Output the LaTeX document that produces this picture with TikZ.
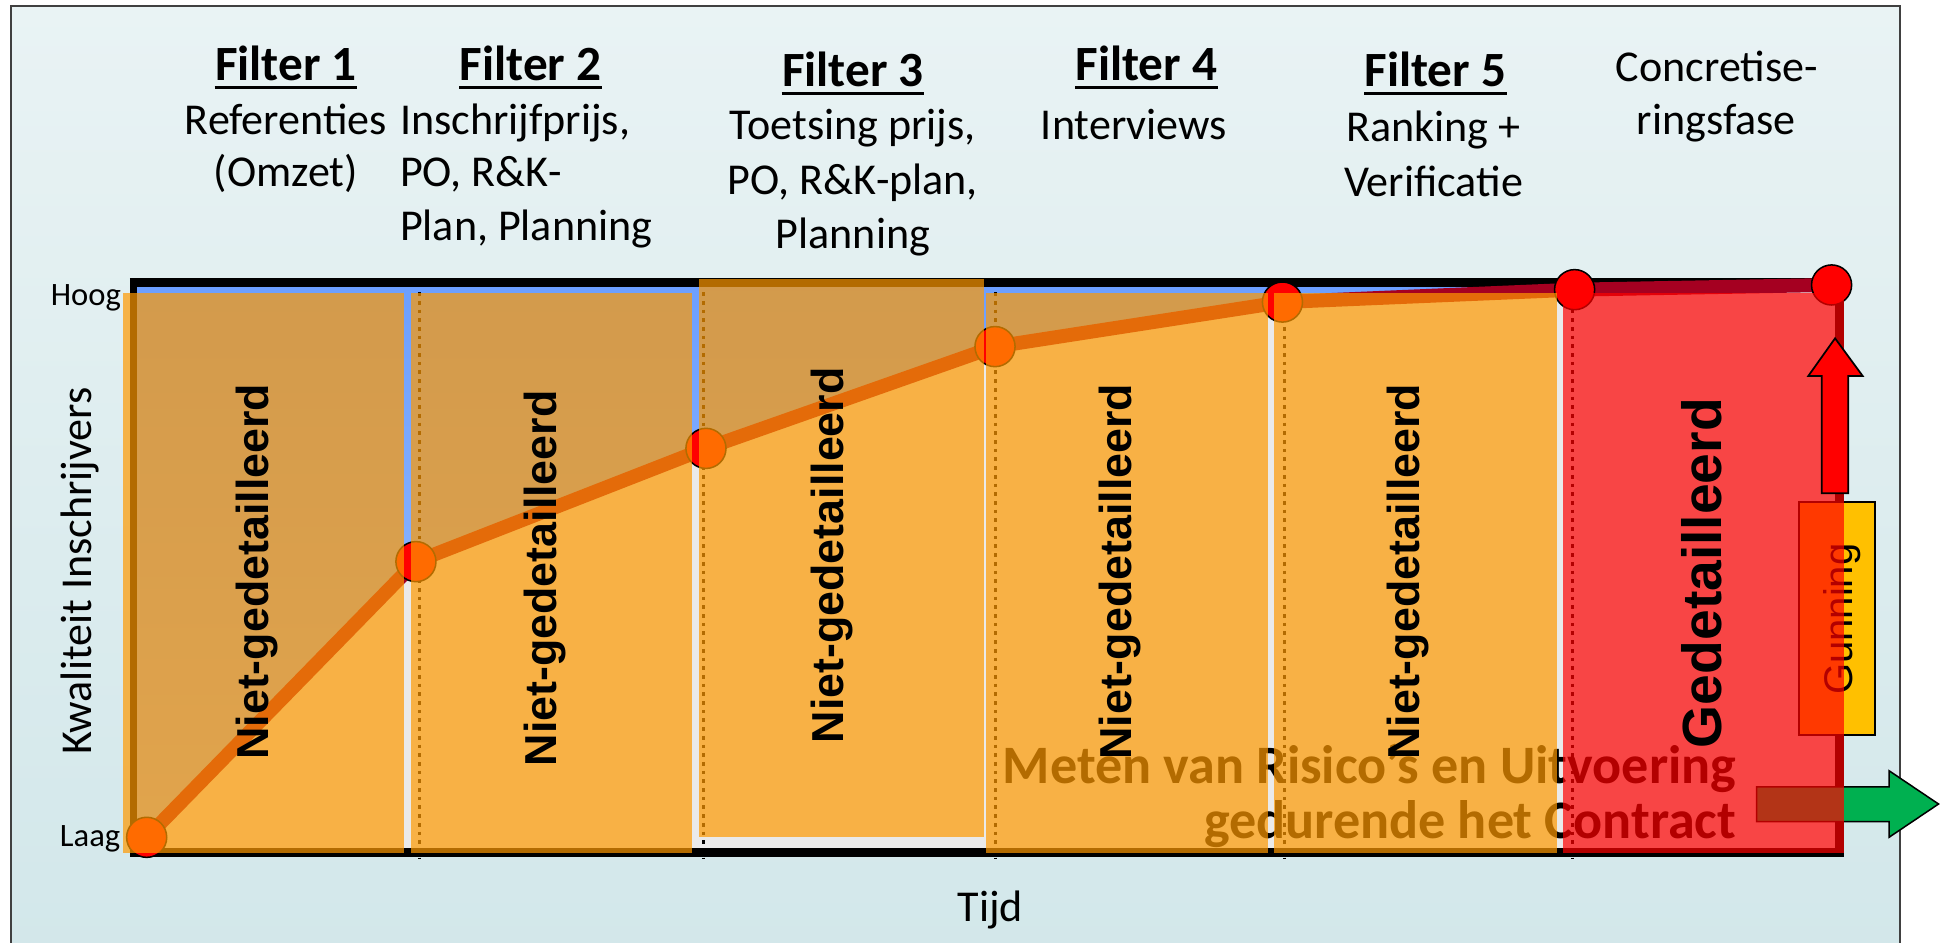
\documentclass[tikz,border=0pt]{standalone}
\usepackage{fontspec}
\setmainfont{Carlito}
\newfontfamily\arialfont{Liberation Sans}
\newfontfamily\arialbold{Liberation Sans Bold}
\usetikzlibrary{calc}

\definecolor{bgtop}{HTML}{E9F3F4}
\definecolor{bgbot}{HTML}{D2E7EA}
\definecolor{framegray}{HTML}{404040}
\definecolor{chartgray}{HTML}{EAEAEA}
\definecolor{bluetop}{HTML}{6C9FFF}
\definecolor{bluebot}{HTML}{9CC0FF}
\definecolor{curvered}{HTML}{A50021}
\definecolor{phaseorange}{HTML}{FF9900}
\definecolor{phasered}{HTML}{FF0000}
\definecolor{arrowgreen}{HTML}{00B050}
\definecolor{gunyellow}{HTML}{FFC000}

\begin{document}
\begin{tikzpicture}[x=0.02cm, y=-0.02cm,
  body/.style={font=\fontsize{20.26pt}{24pt}\selectfont, inner sep=0pt, anchor=base},
  bodyleft/.style={body, anchor=base west},
  title/.style={font=\bfseries\fontsize{22.65pt}{26pt}\selectfont, inner sep=0pt, anchor=base},
  tick/.style={font=\fontsize{15pt}{18pt}\selectfont, inner sep=0pt, anchor=base east},
  meten/.style={font=\bfseries\fontsize{24.9pt}{28pt}\selectfont, inner sep=0pt, anchor=base east},
  colvert/.style={font=\arialbold\fontsize{20.6pt}{25pt}\selectfont, rotate=90, inner sep=0pt, anchor=base},
  orangecol/.style={fill=phaseorange, fill opacity=0.7},
  redcol/.style={fill=phasered, fill opacity=0.7},
  dotline/.style={black, line width=1.4pt, dash pattern=on 1.7pt off 2.3pt},
  dot/.style={circle, draw=black, fill=red, line width=0.7pt, minimum size=0.648cm, inner sep=0pt},
  uline/.style={line width=1.3pt}
]
\useasboundingbox (0,0) rectangle (1568,761);
\clip (0,0) rectangle (1568,761);

% page and panel
\fill[white] (0,0) rectangle (1568,761);
\draw[framegray, line width=0.7pt, top color=bgtop, bottom color=bgbot] (9,4.8) rectangle (1535,780);

% curve points
\coordinate (p1) at (118.5,676.4);
\coordinate (p2) at (336,453.7);
\coordinate (p3) at (570.3,362.2);
\coordinate (p4) at (803.8,280);
\coordinate (p5) at (1036,244);
\coordinate (p6) at (1272,234);
\coordinate (p7) at (1479.6,230.2);

% chart area: grey below the curve, blue above it
\fill[chartgray] (107.7,228.2) rectangle (1485.9,688.5);
\shade[top color=bluetop, bottom color=bluebot]
  (107.7,228.2) -- (1485.9,228.2) -- (1485.9,230.2) -- (p7) -- (p6) -- (p5) -- (p4)
  -- (p3) -- (p2) -- (p1) -- (107.7,676.4) -- cycle;

% axes
\draw[line width=3.87pt] (105,228.2) -- (1489.3,228.2);
\draw[line width=3.98pt] (105,688.5) -- (1489.3,688.5);
\draw[line width=3.07pt] (107.7,224.8) -- (107.7,692);
\draw[line width=3.9pt] (1485.9,224.8) -- (1485.9,692);

% phase separators
\foreach \xx in {338.7,568,804.5,1038,1270.4}
  \draw[dotline] (\xx,229) -- (\xx,693);

% quality curve
\draw[curvered, line width=6.4pt, line join=round] (p1) -- (p2) -- (p3) -- (p4) -- (p5) -- (p6) -- (p7);
\foreach \pp in {1,...,7}
  \node[dot] (d\pp) at (p\pp) {};

% contract text, green arrow and award box
\node[meten] (m1) at (1403,632.8) {Meten van Risico’s en Uitvoering};
\node[meten] (m2) at (1403,677.2) {gedurende het Contract};
\draw[fill=arrowgreen, line width=0.7pt] (1419,635.6) -- (1526,635.6) -- (1526,622.6) -- (1566,649.5)
  -- (1526,676.4) -- (1526,663.8) -- (1419,663.8) -- cycle;
\draw[fill=gunyellow, line width=0.8pt] (1453.5,405.3) rectangle (1514.7,593.8);
\node[font=\arialfont\fontsize{18.4pt}{22pt}\selectfont, rotate=90, inner sep=0pt, anchor=base] (gun) at (1496.6,500.2) {Gunning};

% phase columns
\fill[orangecol] (99.6,237) rectangle (326.4,689);
\fill[orangecol] (331.8,237) rectangle (558.7,689);
\fill[orangecol] (565,225) rectangle (795,676);
\fill[orangecol] (796.6,237) rectangle (1024.7,689);
\fill[orangecol] (1029,237) rectangle (1257.8,689);
\fill[redcol] (1262.4,237) rectangle (1489.3,689);

% award arrow
\draw[fill=red, line width=0.8pt] (1471.6,398.5) -- (1471.6,303.7) -- (1460.8,303.7) -- (1482.4,273.3)
  -- (1504.7,303.7) -- (1493.1,303.7) -- (1493.1,398.5) -- cycle;

% column labels
\node[colvert] (n1) at (216.8,461.8) {Niet-gedetailleerd};
\node[colvert] (n2) at (449.2,467.2) {Niet-gedetailleerd};
\node[colvert] (n3) at (681.3,448.6) {Niet-gedetailleerd};
\node[colvert] (n4) at (914.2,461.8) {Niet-gedetailleerd};
\node[colvert] (n5) at (1146.6,461.8) {Niet-gedetailleerd};
\node[colvert, font=\arialbold\fontsize{25.4pt}{30pt}\selectfont] (g6) at (1390.8,463) {Gedetailleerd};

% headings
\node[title] (t1) at (231,65) {Filter 1};
\node[title] (t2) at (428.6,65) {Filter 2};
\node[title] (t3) at (689,70) {Filter 3};
\node[title] (t4) at (926,65) {Filter 4};
\node[title] (t5) at (1159.5,70) {Filter 5};
\foreach \tt in {t1,t2,t3,t4,t5}
  \draw[uline] ($(\tt.base west)+(0,5.6)$) -- ($(\tt.base east)+(0,5.6)$);

\node[body] (b1a) at (231,109) {Referenties};
\node[body] (b1b) at (231,150.8) {(Omzet)};
\node[bodyleft] (b2a) at (322.8,109) {Inschrijfprijs,};
\node[bodyleft] (b2b) at (322.8,150.8) {PO, R\&K-};
\node[bodyleft] (b2c) at (322.8,193.9) {Plan, Planning};
\node[body] (b3a) at (689,113) {Toetsing prijs,};
\node[body] (b3b) at (689,157.5) {PO, R\&K-plan,};
\node[body] (b3c) at (689,200.6) {Planning};
\node[body] (b4a) at (916,113) {Interviews};
\node[body] (b5a) at (1158,114.4) {Ranking +};
\node[body] (b5b) at (1158,158.9) {Verificatie};
\node[body] (c1) at (1387,66) {Concretise-};
\node[body] (c2) at (1386.5,109) {ringsfase};

% axis labels
\node[tick] (hoog) at (98.1,246.4) {Hoog};
\node[tick] (laag) at (97.5,684) {Laag};
\node[body, rotate=90] (yl) at (73.7,461) {Kwaliteit Inschrijvers};
\node[body] (xl) at (800,744.5) {Tijd};
\end{tikzpicture}
\end{document}
